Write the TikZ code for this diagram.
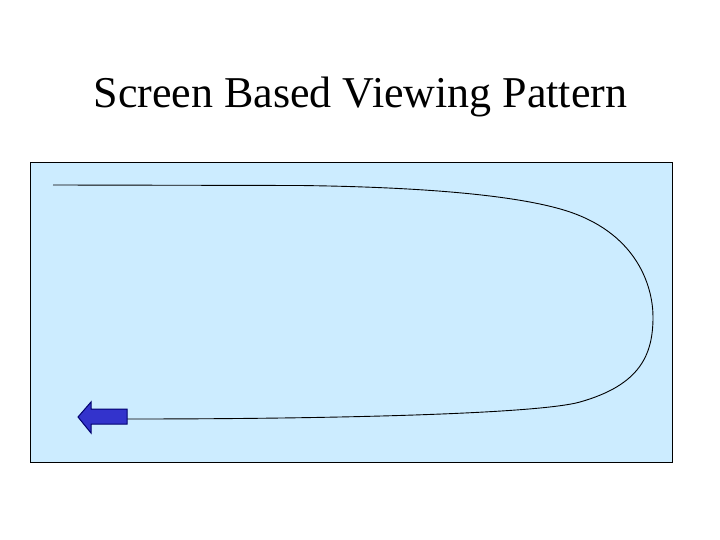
\documentclass[tikz,border=0pt]{standalone}
\usepackage{fontspec}
\setmainfont{Liberation Serif}
\definecolor{screenbg}{RGB}{204,236,255}
\definecolor{arrowfill}{RGB}{51,51,204}
\definecolor{arrowline}{RGB}{0,0,110}
\tikzset{
  screenbox/.style={draw=black, line width=1pt, fill=screenbg},
  pathline/.style={draw=black, line width=0.9pt},
  arrowbody/.style={fill=arrowfill, draw=arrowline, line width=1pt, line join=miter}
}
\begin{document}
\begin{tikzpicture}[x=1pt,y=-1pt]
\useasboundingbox (0,0) rectangle (720,540);
\node[anchor=base, font=\fontsize{44}{50}\selectfont, inner sep=0pt] (title) at (360.5,108) {Screen Based Viewing Pattern};
\draw[screenbox] (30.5,162.5) rectangle (672.5,462);
\coordinate (start) at (53,185);
\coordinate (tail) at (127,419);
\draw[pathline] (start) -- (300,185.5)
  .. controls (420,187) and (520,195) .. (570,212)
  .. controls (640,236) and (653,290) .. (653,317)
  .. controls (653,355) and (640,385) .. (580,402)
  .. controls (540,413.3) and (350,419) .. (tail);
\draw[arrowbody] (78,417) -- (91,402) -- (91,409) -- (tail |- 0,409) -- (tail |- 0,424) -- (91,424) -- (91,433) -- cycle;
\end{tikzpicture}
\end{document}
